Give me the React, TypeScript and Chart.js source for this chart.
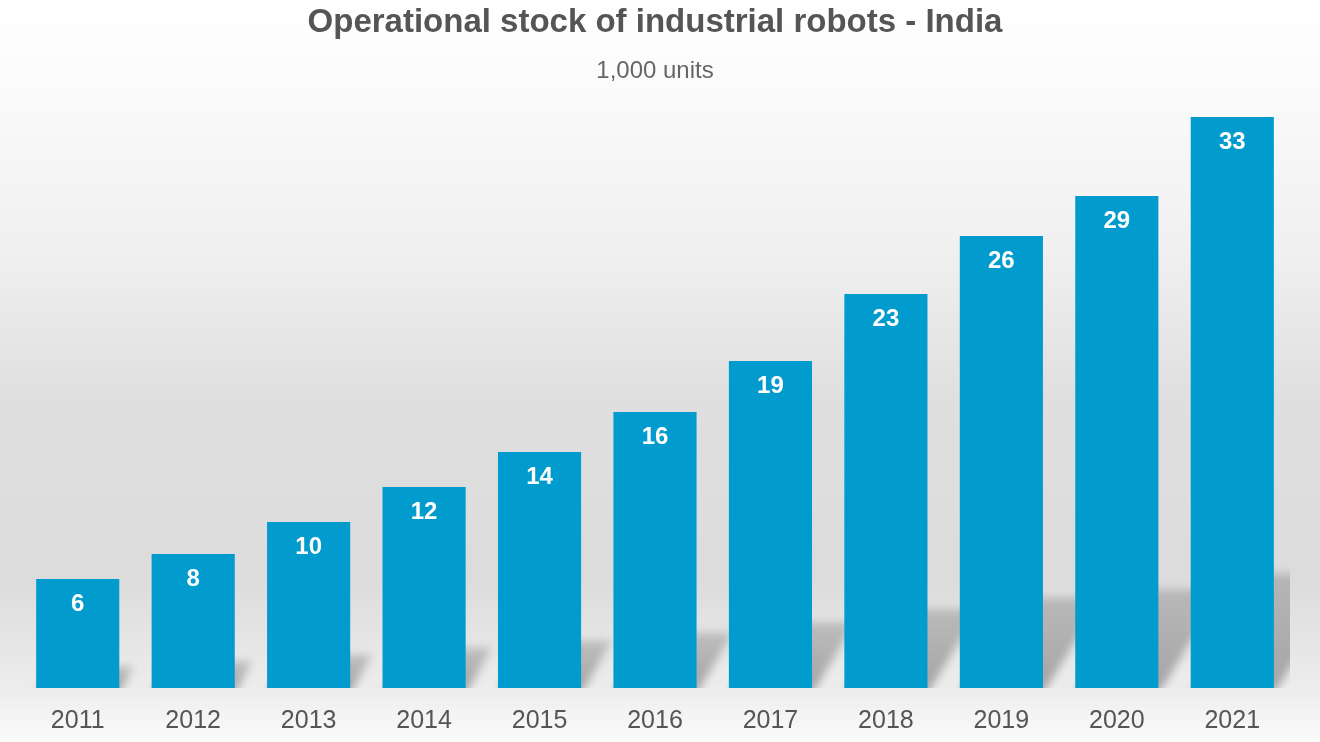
import { useEffect, useRef } from 'react';
import { Chart, registerables } from 'chart.js';

Chart.register(...registerables);

const years = ['2011', '2012', '2013', '2014', '2015', '2016', '2017', '2018', '2019', '2020', '2021'];
const stock = [6.34, 7.79, 9.65, 11.69, 13.72, 16.05, 19.01, 22.91, 26.28, 28.6, 33.2];
const titleText = 'Operational stock of industrial robots - India';
const subtitleText = '1,000 units';
const yMax = 34.2;

const FONT = "'Liberation Sans', Arial, Helvetica, sans-serif";

const bgPlugin = {
  id: 'bgGradient',
  beforeDraw(chart: any) {
    const { ctx, width, height } = chart;
    const g = ctx.createLinearGradient(0, 0, 0, height);
    g.addColorStop(0, '#ffffff');
    g.addColorStop(100 / 742, '#fafafa');
    g.addColorStop(250 / 742, '#f0f0f0');
    g.addColorStop(400 / 742, '#dfdfdf');
    g.addColorStop(580 / 742, '#dcdcdc');
    g.addColorStop(690 / 742, '#ededed');
    g.addColorStop(1, '#fbfbfb');
    ctx.save();
    ctx.fillStyle = g;
    ctx.fillRect(0, 0, width, height);
    ctx.restore();
  },
};

const shadowPlugin = {
  id: 'barShadows',
  beforeDatasetsDraw(chart: any) {
    const { ctx, chartArea } = chart;
    const meta = chart.getDatasetMeta(0);
    ctx.save();
    ctx.beginPath();
    ctx.rect(chartArea.left, chartArea.top, chartArea.right - chartArea.left, chartArea.bottom - chartArea.top);
    ctx.clip();
    ctx.filter = 'blur(4px)';
    meta.data.forEach((bar: any) => {
      const { x, y, base, width } = bar.getProps(['x', 'y', 'base', 'width'], true);
      const H = base - y;
      const h = 0.2 * H;
      const dx = 0.65 * h;
      const l = x - width / 2;
      const r = x + width / 2;
      const g = ctx.createLinearGradient(0, base, 0, base - h);
      g.addColorStop(0, 'rgba(0,0,0,0.3)');
      g.addColorStop(1, 'rgba(0,0,0,0.17)');
      ctx.fillStyle = g;
      ctx.beginPath();
      ctx.moveTo(l, base + 6);
      ctx.lineTo(r, base + 6);
      ctx.lineTo(r + dx, base - h);
      ctx.lineTo(l + dx, base - h);
      ctx.closePath();
      ctx.fill();
    });
    ctx.restore();
  },
};

const labelPlugin = {
  id: 'barLabels',
  afterDatasetsDraw(chart: any) {
    const { ctx } = chart;
    const meta = chart.getDatasetMeta(0);
    ctx.save();
    ctx.fillStyle = '#ffffff';
    ctx.font = `bold 24px ${FONT}`;
    ctx.textAlign = 'center';
    ctx.textBaseline = 'alphabetic';
    meta.data.forEach((bar: any, i: number) => {
      const { x, y } = bar.getProps(['x', 'y'], true);
      ctx.fillText(String(Math.round(stock[i])), x, y + 32);
    });
    ctx.restore();
  },
};

export default function App() {
  const ref = useRef<HTMLCanvasElement | null>(null);

  useEffect(() => {
    document.body.style.margin = '0';
    if (!ref.current) return;
    const chart = new Chart(ref.current, {
      type: 'bar',
      data: {
        labels: years,
        datasets: [
          {
            data: stock,
            backgroundColor: '#019bcd',
            borderWidth: 0,
            categoryPercentage: 0.72,
            barPercentage: 1.0,
          },
        ],
      },
      options: {
        animation: false,
        responsive: true,
        maintainAspectRatio: false,
        layout: { padding: { left: 20, right: 30, bottom: -12, top: 0 } },
        plugins: {
          legend: { display: false },
          tooltip: { enabled: false },
          title: {
            display: true,
            text: titleText,
            color: '#555555',
            font: { size: 33, weight: 'bold', family: FONT },
            padding: { top: 3, bottom: 14 },
          },
          subtitle: {
            display: true,
            text: subtitleText,
            color: '#666666',
            font: { size: 24, weight: 'normal', family: FONT },
            padding: { top: 0, bottom: 14.4 },
          },
        },
        scales: {
          x: {
            grid: { display: false, drawTicks: false },
            border: { display: false },
            ticks: { color: '#555555', font: { size: 25, family: FONT }, padding: 18 },
          },
          y: {
            display: false,
            min: 0,
            max: yMax,
          },
        },
      },
      plugins: [bgPlugin, shadowPlugin, labelPlugin],
    });
    return () => chart.destroy();
  }, []);

  return (
    <div style={{ width: 1320, height: 742, position: 'relative' }}>
      <canvas ref={ref} />
    </div>
  );
}
